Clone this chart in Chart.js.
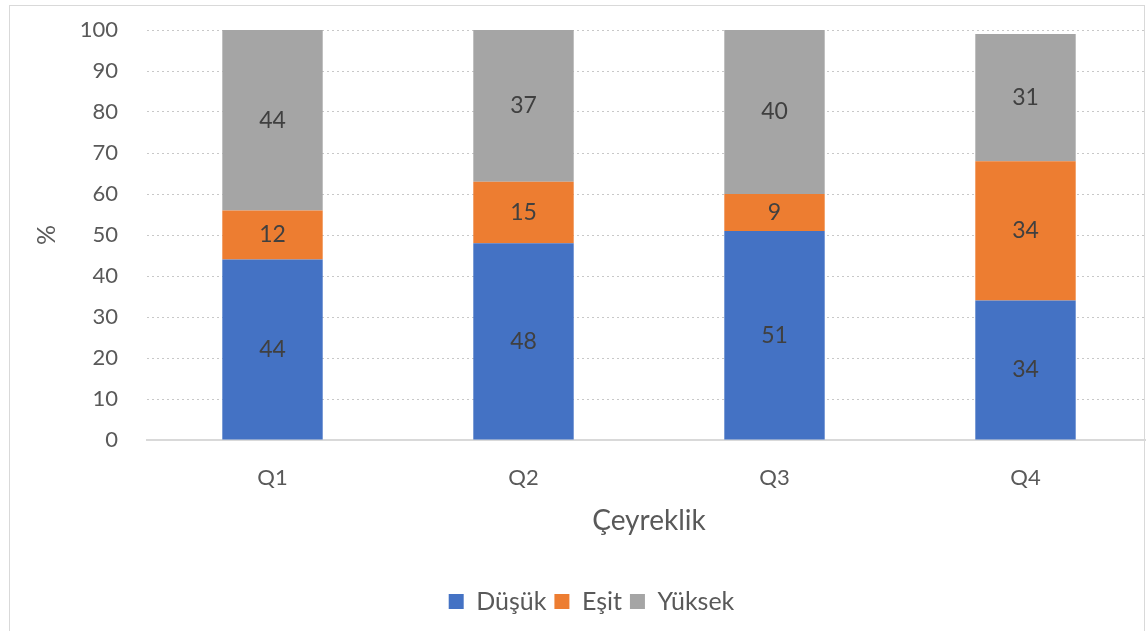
<!DOCTYPE html>
<html>
<head>
<meta charset="utf-8">
<script src="https://cdn.jsdelivr.net/npm/chart.js@4"></script>
<style>
  html, body { margin: 0; padding: 0; background: #fff; overflow: hidden; width: 1146px; height: 631px; }
  #wrap { position: relative; width: 1146px; height: 631px; overflow: hidden; }
  #cerceve { position: absolute; left: 9px; top: 5px; width: 1134px; height: 700px; border: 1px solid #d9d9d9; pointer-events: none; }
  canvas { position: absolute; left: 0; top: 0; }
</style>
</head>
<body>
<div id="wrap">
  <canvas id="grafik" width="1152" height="631"></canvas>
  <div id="cerceve"></div>
</div>
<script>
const ceyrekler = ['Q1', 'Q2', 'Q3', 'Q4'];
const dusuk = [44, 48, 51, 34];
const esit = [12, 15, 9, 34];
const yuksek = [44, 37, 40, 31];
const yTikleri = [0, 10, 20, 30, 40, 50, 60, 70, 80, 90, 100];

const yaziTipi = 'Lato, "Open Sans", sans-serif';

// bar ortasina deger yazan basit eklenti
const degerYazici = {
    id: 'degerYazici',
    afterDatasetsDraw(chart) {
        const ctx = chart.ctx;
        ctx.save();
        ctx.font = '23px ' + yaziTipi;
        ctx.fillStyle = '#404040';
        ctx.textAlign = 'center';
        ctx.textBaseline = 'middle';
        chart.data.datasets.forEach((ds, i) => {
            const meta = chart.getDatasetMeta(i);
            meta.data.forEach((bar, j) => {
                const y = (bar.y + bar.base) / 2;
                ctx.fillText(ds.data[j], bar.x, y);
            });
        });
        ctx.restore();
    }
};

new Chart(document.getElementById('grafik'), {
    type: 'bar',
    data: {
        labels: ceyrekler,
        datasets: [
            { label: 'Düşük', data: dusuk, backgroundColor: '#4472C4' },
            { label: 'Eşit', data: esit, backgroundColor: '#ED7D31' },
            { label: 'Yüksek', data: yuksek, backgroundColor: '#A5A5A5' }
        ]
    },
    options: {
        responsive: false,
        animation: false,
        categoryPercentage: 1,
        barPercentage: 0.4,
        layout: { padding: { top: 30, right: 1, bottom: 7, left: 32 } },
        plugins: {
            tooltip: { enabled: false },
            legend: {
                position: 'bottom',
                labels: {
                    boxWidth: 15,
                    boxHeight: 15,
                    padding: 8,
                    color: '#595959',
                    font: { family: yaziTipi, size: 25 }
                }
            }
        },
        scales: {
            x: {
                stacked: true,
                grid: { display: false, drawTicks: false },
                border: { display: true, color: '#d9d9d9', width: 2 },
                ticks: { color: '#595959', padding: 25, font: { family: yaziTipi, size: 22 } },
                title: {
                    display: true,
                    text: 'Çeyreklik',
                    color: '#595959',
                    font: { family: yaziTipi, size: 28 },
                    padding: { top: 0, bottom: 43 }
                },
                afterFit(scale) { scale.height = 141; }
            },
            y: {
                stacked: true,
                min: 0,
                max: 100,
                afterBuildTicks(scale) { scale.ticks = yTikleri.map(v => ({ value: v })); },
                grid: { color: '#c8c8c8', drawTicks: false },
                border: { display: false, dash: [2, 3] },
                ticks: { color: '#595959', padding: 29, font: { family: yaziTipi, size: 22 } },
                title: {
                    display: true,
                    text: '%',
                    color: '#595959',
                    font: { family: yaziTipi, size: 25 },
                    padding: { top: 0, bottom: 0 }
                },
                afterFit(scale) {
                    scale.width = 115;
                    scale.paddingTop = 0;
                    scale.paddingBottom = 0;
                }
            }
        }
    },
    plugins: [degerYazici]
});
</script>
</body>
</html>
